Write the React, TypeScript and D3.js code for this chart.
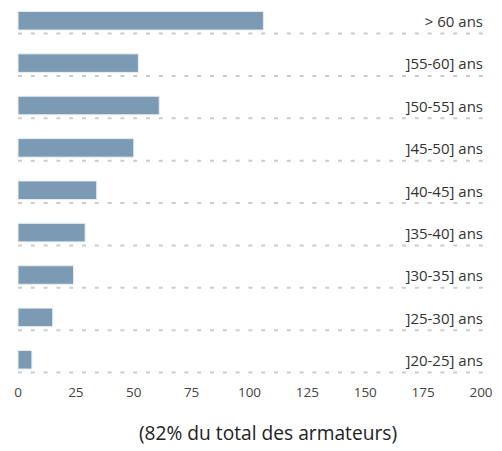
import React from 'react';
import * as d3 from 'd3';

const categories = ['> 60 ans', ']55-60] ans', ']50-55] ans', ']45-50] ans', ']40-45] ans', ']35-40] ans', ']30-35] ans', ']25-30] ans', ']20-25] ans'];
const values = [106, 52, 61, 50, 34, 29, 24, 15, 6];
const ticks = [0, 25, 50, 75, 100, 125, 150, 175, 200];
const caption = '(82% du total des armateurs)';

const W = 502;
const H = 451;

export default function App() {
  // échelles
  const x = d3.scaleLinear().domain([0, 200]).range([18, 481]);
  const y = d3
    .scaleBand<string>()
    .domain(categories)
    .range([11.5, 369])
    .paddingInner(0.563)
    .paddingOuter(0);
  const bw = y.bandwidth();

  return (
    <svg
      width={W}
      height={H}
      style={{ position: 'absolute', left: 0, top: 0, fontFamily: "'Open Sans', 'Noto Sans', sans-serif" }}
    >
      {categories.map((c, i) => {
        const top = y(c) as number;
        const lineY = top + bw + 3.5;
        return (
          <g key={c}>
            <line
              x1={x(0)}
              x2={483}
              y1={lineY}
              y2={lineY}
              stroke="#cccccc"
              strokeWidth={2}
              strokeDasharray="4,8.8"
            />
            <rect
              x={x(0)}
              y={top}
              width={x(values[i]) - x(0)}
              height={bw}
              fill="#7b9ab3"
              stroke="#e6edf2"
              strokeWidth={1}
            />
            <text x={483} y={lineY - 6.5} textAnchor="end" fontSize={15} fill="#333">
              {c}
            </text>
          </g>
        );
      })}
      {ticks.map(t => (
        <text key={t} x={x(t)} y={397} textAnchor="middle" fontSize={13.5} fill="#444">
          {t}
        </text>
      ))}
      <text x={268} y={440} textAnchor="middle" fontSize={19.2} fill="#222">
        {caption}
      </text>
    </svg>
  );
}
